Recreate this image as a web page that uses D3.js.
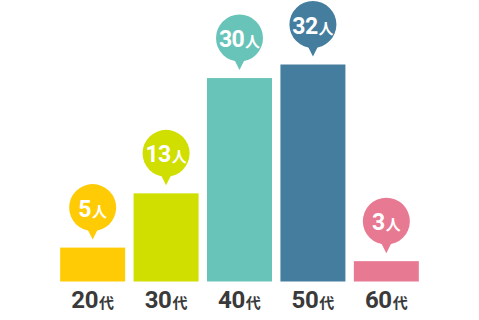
<!DOCTYPE html>
<html>
<head>
<meta charset="utf-8">
<script src="https://cdnjs.cloudflare.com/ajax/libs/d3/7.8.5/d3.min.js"></script>
<style>
    body { margin: 0; background: #fff; }
    .num { font-family: Roboto, "DejaVu Sans", sans-serif; font-weight: 700; }
    .unit { font-family: "Noto Sans CJK JP", sans-serif; font-weight: 700; }
</style>
</head>
<body>
<div id="chart"></div>
<script>

// data
var ages = ["20", "30", "40", "50", "60"];
var counts = [5, 13, 30, 32, 3];
var colors = ["#FFCB05", "#D0DE00", "#68C4B8", "#447D9E", "#E87993"];

var width = 479,
    height = 320;

var baseline = 281.5;

var svg = d3.select("#chart").append("svg")
    .attr("width", width)
    .attr("height", height);

// scales
var x = d3.scaleBand()
    .domain(ages)
    .range([56.5, 422.5])
    .paddingInner(0.115)
    .paddingOuter(0.05);

var y = d3.scaleLinear()
    .domain([0, 32])
    .range([baseline, 64.5]);

var data = ages.map(function(a, i) {
    return { age: a, count: counts[i], color: colors[i] };
});

// bars
svg.selectAll("rect.bar")
    .data(data)
    .enter()
    .append("rect")
    .attr("class", "bar")
    .attr("x", function(d) { return x(d.age); })
    .attr("y", function(d) { return y(d.count); })
    .attr("width", x.bandwidth())
    .attr("height", function(d) { return baseline - y(d.count); })
    .attr("fill", function(d) { return d.color; });

// bubble markers above the bars
var r = 23.5;
var bubble = svg.selectAll("g.bubble")
    .data(data)
    .enter()
    .append("g")
    .attr("class", "bubble")
    .attr("transform", function(d) {
        var tip = y(d.count) - 8;
        return "translate(" + (x(d.age) + x.bandwidth() / 2) + "," + (tip - 32) + ")";
    });

bubble.append("circle")
    .attr("r", r)
    .attr("fill", function(d) { return d.color; });

bubble.append("path")
    .attr("d", "M-7,18 L0,32 L7,18 Z")
    .attr("fill", function(d) { return d.color; });

var label = bubble.append("text")
    .attr("y", 9)
    .attr("text-anchor", "middle")
    .attr("fill", "#fff");
label.append("tspan")
    .attr("class", "num")
    .attr("font-size", 23)
    .attr("letter-spacing", -0.6)
    .text(function(d) { return d.count; });
label.append("tspan")
    .attr("class", "unit")
    .attr("font-size", 15)
    .attr("dx", 1)
    .text("人");

// age labels under the bars
var ageLabel = svg.selectAll("text.age")
    .data(data)
    .enter()
    .append("text")
    .attr("class", "age")
    .attr("x", function(d) { return x(d.age) + x.bandwidth() / 2; })
    .attr("y", 307.5)
    .attr("text-anchor", "middle")
    .attr("fill", "#3a3a3a");
ageLabel.append("tspan")
    .attr("class", "num")
    .attr("font-size", 24)
    .attr("letter-spacing", -0.4)
    .text(function(d) { return d.age; });
ageLabel.append("tspan")
    .attr("class", "unit")
    .attr("font-size", 15)
    .attr("dx", 1)
    .text("代");

</script>
</body>
</html>
